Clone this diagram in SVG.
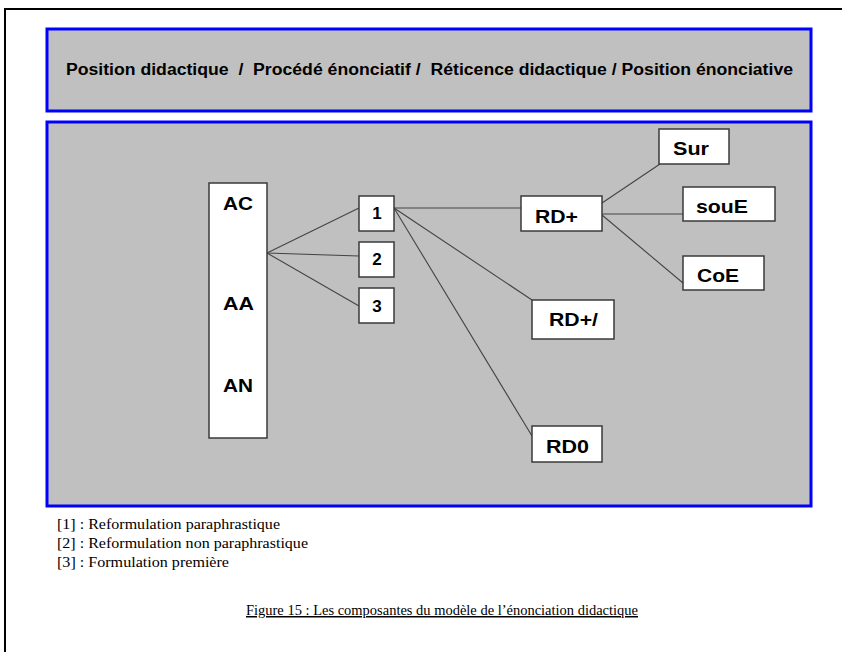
<svg xmlns="http://www.w3.org/2000/svg" width="842" height="652" viewBox="0 0 842 652">
<style>
.panel{fill:#c0c0c0;stroke:#0000ff;stroke-width:3}
.node{fill:#ffffff;stroke:#3a3a3a;stroke-width:1.5}
.lbl{font-family:"Liberation Sans",Arial,sans-serif;font-weight:bold;font-size:19px;fill:#000}
.num{font-family:"Liberation Sans",Arial,sans-serif;font-weight:bold;font-size:17px;fill:#000;text-anchor:middle}
.conn line{stroke:#444;stroke-width:1.1}
.leg{font-family:"Liberation Serif","Times New Roman",serif;font-size:15px;fill:#000}
</style>
<rect x="0" y="0" width="842" height="652" fill="#ffffff"/>
<rect x="5" y="9" width="845" height="660" fill="none" stroke="#000" stroke-width="2"/>
<g id="header">
<rect class="panel" x="47" y="29" width="764" height="82"/>
<text x="66" y="75" font-family="'Liberation Sans',Arial,sans-serif" font-weight="bold" font-size="16" textLength="727" lengthAdjust="spacingAndGlyphs" xml:space="preserve">Position didactique  /  Procédé énonciatif /  Réticence didactique / Position énonciative</text>
</g>
<rect class="panel" x="47" y="122" width="764" height="384"/>
<g class="conn" id="connectors">
<line x1="267" y1="253" x2="359" y2="208"/>
<line x1="267" y1="253" x2="359" y2="256"/>
<line x1="267" y1="253" x2="359" y2="306"/>
<line x1="394" y1="208" x2="521" y2="208"/>
<line x1="394" y1="208" x2="532" y2="300"/>
<line x1="394" y1="208" x2="532" y2="436"/>
<line x1="602" y1="203" x2="660" y2="164"/>
<line x1="602" y1="214" x2="683" y2="214"/>
<line x1="602" y1="215" x2="683" y2="283"/>
</g>
<g id="AC_AA_AN">
<rect class="node" x="209" y="183" width="58" height="255"/>
<text class="lbl" x="223" y="210" textLength="30" lengthAdjust="spacingAndGlyphs">AC</text>
<text class="lbl" x="223" y="310" textLength="31" lengthAdjust="spacingAndGlyphs">AA</text>
<text class="lbl" x="223" y="392" textLength="30" lengthAdjust="spacingAndGlyphs">AN</text>
</g>
<g id="n1"><rect class="node" x="359" y="196" width="35" height="35"/><text class="num" x="377" y="219">1</text></g>
<g id="n2"><rect class="node" x="359" y="242" width="35" height="35"/><text class="num" x="377" y="265">2</text></g>
<g id="n3"><rect class="node" x="359" y="288" width="35" height="35"/><text class="num" x="377" y="312">3</text></g>
<g id="RDplus"><rect class="node" x="521" y="196" width="81" height="35"/><text class="lbl" x="535" y="223" textLength="43" lengthAdjust="spacingAndGlyphs">RD+</text></g>
<g id="RDplusSlash"><rect class="node" x="532" y="300" width="82" height="39"/><text class="lbl" x="549" y="326" textLength="49" lengthAdjust="spacingAndGlyphs">RD+/</text></g>
<g id="RD0"><rect class="node" x="532" y="426" width="70" height="36"/><text class="lbl" x="546" y="453" textLength="43" lengthAdjust="spacingAndGlyphs">RD0</text></g>
<g id="Sur"><rect class="node" x="659" y="129" width="70" height="35"/><text class="lbl" x="673" y="155" textLength="36" lengthAdjust="spacingAndGlyphs">Sur</text></g>
<g id="souE"><rect class="node" x="683" y="187" width="92" height="34"/><text class="lbl" x="696" y="213" textLength="52" lengthAdjust="spacingAndGlyphs">souE</text></g>
<g id="CoE"><rect class="node" x="683" y="256" width="81" height="34"/><text class="lbl" x="697" y="282" textLength="42" lengthAdjust="spacingAndGlyphs">CoE</text></g>
<g id="legend">
<text class="leg" x="57" y="529" textLength="223" lengthAdjust="spacingAndGlyphs">[1] : Reformulation paraphrastique</text>
<text class="leg" x="57" y="548" textLength="251" lengthAdjust="spacingAndGlyphs">[2] : Reformulation non paraphrastique</text>
<text class="leg" x="57" y="567" textLength="172" lengthAdjust="spacingAndGlyphs">[3] : Formulation première</text>
<text class="leg" x="246" y="615" text-decoration="underline" textLength="392" lengthAdjust="spacingAndGlyphs">Figure 15 : Les composantes du modèle de l’énonciation didactique</text>
</g>
</svg>
